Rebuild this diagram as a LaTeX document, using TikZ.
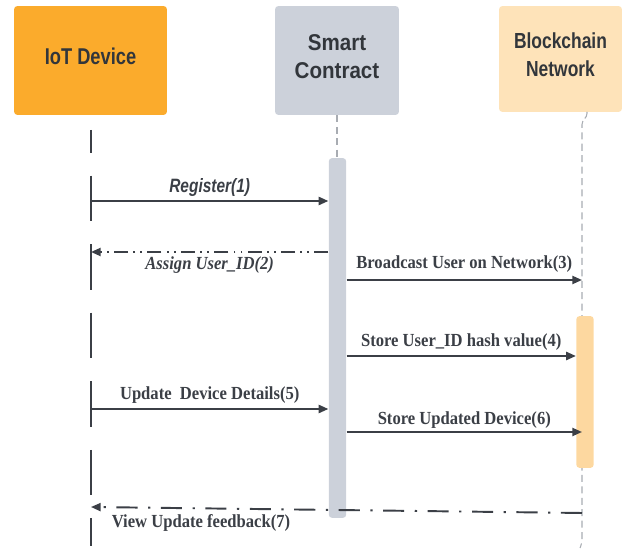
\documentclass[tikz,border=0pt]{standalone}
\usepackage{fontspec}
\setmainfont{Liberation Serif}
\setsansfont{Liberation Sans}
\newfontfamily\headfont{Liberation Sans}[FakeStretch=0.8]
\newfontfamily\headwidefont{Liberation Sans}[FakeStretch=0.9]
\newfontfamily\lblfont{Liberation Serif}[FakeStretch=0.9]
\usepackage{xcolor}
\definecolor{iot-orange}{HTML}{FBAB2C}
\definecolor{sc-grey}{HTML}{CCD1DA}
\definecolor{bc-cream}{HTML}{FEE3B9}
\definecolor{bc-bar}{HTML}{FDD8A0}
\definecolor{ink}{HTML}{3B3F46}
\definecolor{life-grey}{HTML}{A8ACB2}
\usepackage{tikz}
\usetikzlibrary{arrows.meta,positioning,calc}

\begin{document}
\begin{tikzpicture}[x=0.02cm, y=-0.02cm,
  head/.style={rectangle, rounded corners=2pt, minimum height=2.18cm},
  headtxt/.style={align=center, text=ink!85!black, yshift=2.3pt,
                  font=\headfont\bfseries\fontsize{13}{15.9}\selectfont},
  bar/.style={rectangle, rounded corners=2pt, inner sep=0pt, minimum width=0.35cm},
  msg/.style={-{Triangle[length=5.5pt,width=4.6pt]}, line width=1.1pt, ink},
  reply/.style={msg, dash pattern=on 8pt off 3pt on 1pt off 3pt on 1pt off 3pt},
  back/.style={msg, dash pattern=on 12pt off 6pt on 1.3pt off 6pt},
  life/.style={life-grey, line width=0.6pt, dash pattern=on 4pt off 2.5pt},
  lbl/.style={text=ink, inner sep=1pt, font=\lblfont\bfseries\fontsize{10.5}{12}\selectfont}]

  \useasboundingbox (0,0) rectangle (627,550);

  % participants
  \node[head, fill=iot-orange, minimum width=3.06cm,
        label={[headtxt]center:IoT Device}] (iot) at (90.5,60.5) {};
  \node[head, fill=sc-grey, minimum width=2.48cm,
        label={[headtxt, font=\headwidefont\bfseries\fontsize{13}{15.9}\selectfont]center:Smart\\Contract}] (sc) at (337,60.5) {};
  \node[head, fill=bc-cream, minimum width=2.46cm, minimum height=2.12cm,
        label={[headtxt, font=\headfont\bfseries\fontsize{12.4}{15.9}\selectfont]center:Blockchain\\Network}] (bc) at (560.5,59) {};

  % lifelines
  \draw[ink, line width=1.4pt, dash pattern=on 26pt off 13pt, dash phase=13pt] (91,130) -- (91,546);
  \draw[life] (sc.south) -- (337,158);
  \draw[life, rounded corners=2pt] (587,112) -- (587,117) -- (582,121) -- (582,543) -- (580,548);

  % activations
  \node[bar, fill=sc-grey, minimum height=7.2cm] (scbar) at (337.5,338) {};
  \node[bar, fill=bc-bar, minimum height=3.04cm] (bcbar) at (585,392) {};

  \coordinate (bcl) at (582,0);

  % messages
  \draw[msg] (91,201) -- (scbar.west |- 0,201)
    node[midway, above=1pt, text=ink, inner sep=1pt, font=\headfont\bfseries\itshape\fontsize{11}{12}\selectfont] {Register(1)};
  \draw[reply] (scbar.west |- 0,252) -- (91,252)
    node[midway, below=1.3pt, lbl, font=\lblfont\bfseries\itshape\fontsize{10.5}{12}\selectfont] {Assign User\_ID(2)};
  \draw[msg] (scbar.east |- 0,280) -- (bcl |- 0,280)
    node[midway, above=2.5pt, lbl] {Broadcast User on Network(3)};
  \draw[msg] (scbar.east |- 0,356) -- (bcbar.west |- 0,356)
    node[midway, above=1.5pt, lbl] {Store User\_ID hash value(4)};
  \draw[msg] (91,409) -- (scbar.west |- 0,409)
    node[midway, above=1.5pt, lbl] {Update\ \ Device Details(5)};
  \draw[msg] (scbar.east |- 0,432) -- (bcl |- 0,432)
    node[midway, above=0.5pt, lbl] {Store Updated Device(6)};
  \draw[back] (bcl |- 0,513) -- (91,507);
  \node[lbl] (fb) at (201,523) {View Update feedback(7)};

\end{tikzpicture}
\end{document}
